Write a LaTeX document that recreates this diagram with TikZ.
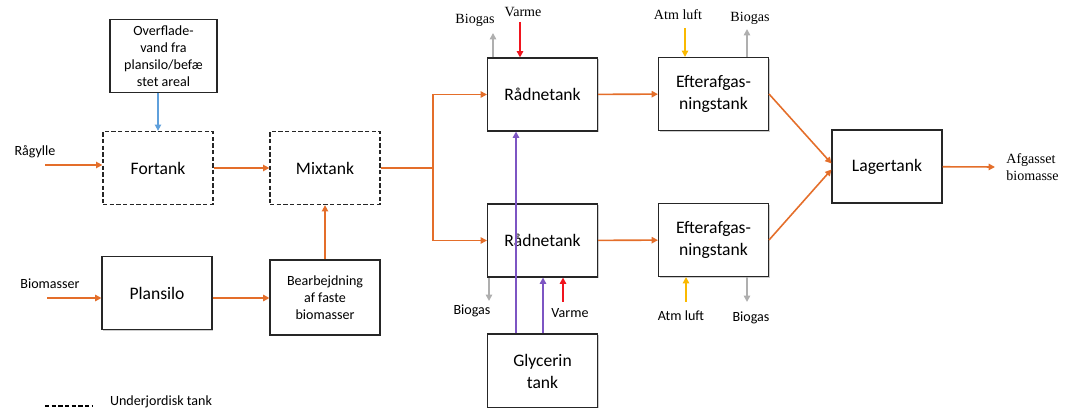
\documentclass[tikz,border=0pt]{standalone}
\usepackage{fontspec}
\setmainfont{Carlito}
\newfontfamily\labelserif{Liberation Serif}
\usepackage{tikz}
\usetikzlibrary{positioning}
\usetikzlibrary{calc,arrows.meta,shadows}

\definecolor{flowcol}{RGB}{228,110,42}
\definecolor{watercol}{RGB}{95,160,220}
\definecolor{heatcol}{RGB}{240,20,30}
\definecolor{aircol}{RGB}{250,185,0}
\definecolor{gascol}{RGB}{175,175,175}
\definecolor{glycol}{RGB}{125,85,195}

\tikzset{
	tank/.style={draw=black!85, line width=0.6pt, fill=white, align=center,
		minimum width=2.2cm, minimum height=1.46cm,
		font=\fontsize{10}{12.5}\selectfont,
		drop shadow={shadow xshift=0.6pt, shadow yshift=-0.6pt, fill=gray!40, opacity=1}},
	ugtank/.style={draw=black!85, line width=0.75pt, fill=white, align=center,
		minimum width=2.2cm, minimum height=1.46cm, dash pattern=on 2.4pt off 1.4pt,
		font=\fontsize{10}{12.5}\selectfont},
	smalltank/.style={tank, font=\fontsize{8}{9.6}\selectfont},
	lbl/.style={inner sep=0pt, align=left, font=\fontsize{8}{9.6}\selectfont},
	toplbl/.style={lbl, font=\labelserif\fontsize{8}{9.6}\selectfont},
	tip/.style={-{Triangle[length=3.6pt,width=3.6pt]}},
	flowline/.style={draw=flowcol, line width=0.9pt},
	flowarrow/.style={flowline, tip},
	waterarrow/.style={draw=watercol, line width=0.9pt, tip},
	heatarrow/.style={draw=heatcol, line width=0.9pt, tip},
	airarrow/.style={draw=aircol, line width=0.9pt, tip},
	gasarrow/.style={draw=gascol, line width=0.9pt, tip},
	glyarrow/.style={draw=glycol, line width=0.9pt, tip},
}

\begin{document}
\begin{tikzpicture}[x=0.02cm, y=-0.02cm]
		
		% ---------------------
		% Proper size --- Bounding box
		\useasboundingbox (0,0) rectangle (1071,408);
		
		% ---------------------
		% Tanks
		\node[smalltank, minimum width=2.14cm, minimum height=1.44cm] (Overflade) at (163.5,56) {Overflade-\\vand fra\\plansilo/befæ\\stet areal};
		\node[ugtank] (Fortank) at (158,168) {Fortank};
		\node[ugtank] (Mixtank) at (325,168) {Mixtank};
		\node[tank] (Plansilo) at (157,293) {Plansilo};
		\node[smalltank, minimum height=1.5cm] (Bearb) at (325,297.5) {Bearbejdning\\af faste\\biomasser};
		
		\node[tank] (Raad1) at (542.5,94.5) {Rådnetank};
		\node[tank] (Raad2) at (542.5,240.5) {Rådnetank};
		\node[tank] (Efter1) at (713.5,94) {Efterafgas-\\ningstank};
		\node[tank] (Efter2) at (713.5,240) {Efterafgas-\\ningstank};
		\node[tank] (Lager) at (887,166.5) {Lagertank};
		\node[tank, minimum height=1.48cm] (Glycerin) at (542.5,371) {Glycerin\\tank};
		
		% ---------------------
		% Inputs & main flow
		\coordinate (RagIn) at (45,165);
		\coordinate (BioIn) at (47,298);
		\coordinate (Split) at (433,168);
		\coordinate (AfgOut) at (995,167);
		
		\node[lbl] (RagLbl) at (35,152) {Rågylle};
		\node[lbl] (BioLbl) at (50,284) {Biomasser};
		\node[toplbl, anchor=west] (AfgLbl) at (1006,167) {Afgasset\\biomasse};
		
		\draw[flowarrow] (RagIn) -- (RagIn -| Fortank.west);
		\draw[flowarrow] (BioIn) -- (BioIn -| Plansilo.west);
		\draw[waterarrow] (Overflade.south -| Fortank) -- (Fortank.north);
		\draw[flowarrow] (Fortank) -- (Mixtank);
		\draw[flowarrow] (Plansilo.east |- BioIn) -- (Bearb.west |- BioIn);
		\draw[flowarrow] (Bearb) -- (Mixtank);
		
		\draw[flowline] (Mixtank.east |- Split) -- (Split);
		\draw[flowarrow] (Split) |- (Raad1.west);
		\draw[flowarrow] (Split) |- (Raad2.west);
		\draw[flowarrow] (Raad1) -- (Efter1);
		\draw[flowarrow] (Raad2) -- (Efter2);
		\draw[flowarrow] (Efter1.east) -- ($(Lager.west)+(0,-3)$);
		\draw[flowarrow] (Efter2.east) -- ($(Lager.west)+(0,3)$);
		\draw[flowarrow] (Lager) -- (AfgOut);
		
		% ---------------------
		% Biogas, varme, luft --- top row
		\coordinate (R1Gas) at (493,33);
		\coordinate (R1Heat) at (520,22);
		\coordinate (E1Air) at (685,28);
		\coordinate (E1Gas) at (747,29);
		
		\node[toplbl] (R1GasLbl) at (475,20) {Biogas};
		\node[toplbl] (R1HeatLbl) at (523,12) {Varme};
		\node[toplbl] (E1AirLbl) at (678,15) {Atm luft};
		\node[toplbl] (E1GasLbl) at (750,18) {Biogas};
		
		\draw[gasarrow] (R1Gas |- Raad1.north) -- (R1Gas);
		\draw[heatarrow] (R1Heat) -- (R1Heat |- Raad1.north);
		\draw[airarrow] (E1Air) -- (E1Air |- Efter1.north);
		\draw[gasarrow] (E1Gas |- Efter1.north) -- (E1Gas);
		
		% ---------------------
		% Biogas, varme, luft, glycerin --- bottom row
		\coordinate (R2Gas) at (489,301);
		\coordinate (R2Heat) at (563,302);
		\coordinate (E2Air) at (686,302);
		\coordinate (E2Gas) at (747,302);
		\path (Glycerin.north) +(-26.5,0) coordinate (Gly1);
		\path (Glycerin.north) +(0.5,0) coordinate (Gly2);
		
		\node[lbl] (R2GasLbl) at (472,311) {Biogas};
		\node[lbl] (R2HeatLbl) at (570,313) {Varme};
		\node[lbl] (E2AirLbl) at (681,316) {Atm luft};
		\node[lbl] (E2GasLbl) at (751,318) {Biogas};
		
		\draw[gasarrow] (R2Gas |- Raad2.south) -- (R2Gas);
		\draw[heatarrow] (R2Heat) -- (R2Heat |- Raad2.south);
		\draw[airarrow] (E2Air) -- (E2Air |- Efter2.south);
		\draw[gasarrow] (E2Gas |- Efter2.south) -- (E2Gas);
		\draw[glyarrow] (Gly1) -- (Gly1 |- Raad1.south);
		\draw[glyarrow] (Gly2) -- (Gly2 |- Raad2.south);
		
		% ---------------------
		% Legend
		\coordinate (LegA) at (45,406);
		\coordinate (LegB) at (92,406);
		\draw[line width=0.75pt, dash pattern=on 2.4pt off 1.4pt] (LegA) -- (LegB);
		\node[lbl] (LegLbl) at (161,402) {Underjordisk tank};
		
\end{tikzpicture}
\end{document}
